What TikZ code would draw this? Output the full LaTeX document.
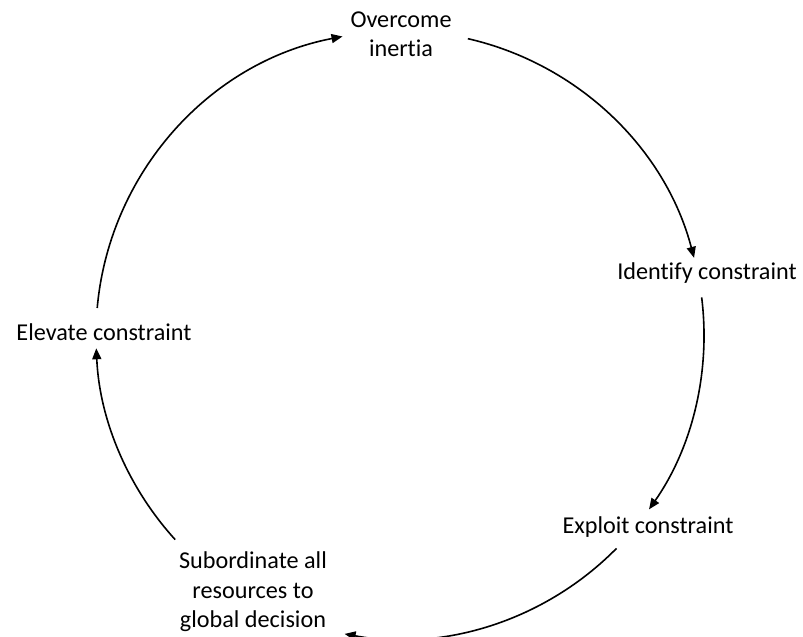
\documentclass[tikz,border=0pt]{standalone}
\usepackage{fontspec}
\setmainfont{Carlito}[Ligatures={NoCommon}]
\usetikzlibrary{arrows.meta}
\begin{document}
\begin{tikzpicture}[x=1pt,y=1pt,
  lbl/.style={font=\fontsize{24.2}{29.5}\selectfont, align=center, inner sep=0pt},
  cyc/.style={line width=1.6pt, -{Triangle[length=11pt,width=9pt]}}]
\useasboundingbox (0,0) rectangle (803,637);
\node[lbl] (over) at (401,603) {Overcome\\inertia};
\node[lbl] (ident) at (707,364) {Identify constraint};
\node[lbl] (expl) at (648,110) {Exploit constraint};
\node[lbl] (sub) at (253,45) {Subordinate all\\resources to\\global decision};
\node[lbl] (elev) at (104,305) {Elevate constraint};
\begin{scope}[shift={(400,302)}]
  \coordinate (s1) at (77.1:304);
  \coordinate (s2) at (7.1:304);
  \coordinate (s3) at (-44.6:304);
  \coordinate (s4) at (222.3:304);
  \coordinate (s5) at (174.9:304);
\end{scope}
\draw[cyc] (s1) arc[start angle=77.1, end angle=14.7, radius=304];
\draw[cyc] (s2) arc[start angle=7.1, end angle=-35, radius=304];
\draw[cyc] (s3) arc[start angle=-44.6, end angle=-100.5, radius=304];
\draw[cyc] (s4) arc[start angle=222.3, end angle=182.5, radius=304];
\draw[cyc] (s5) arc[start angle=174.9, end angle=100.9, radius=304];
\end{tikzpicture}
\end{document}
